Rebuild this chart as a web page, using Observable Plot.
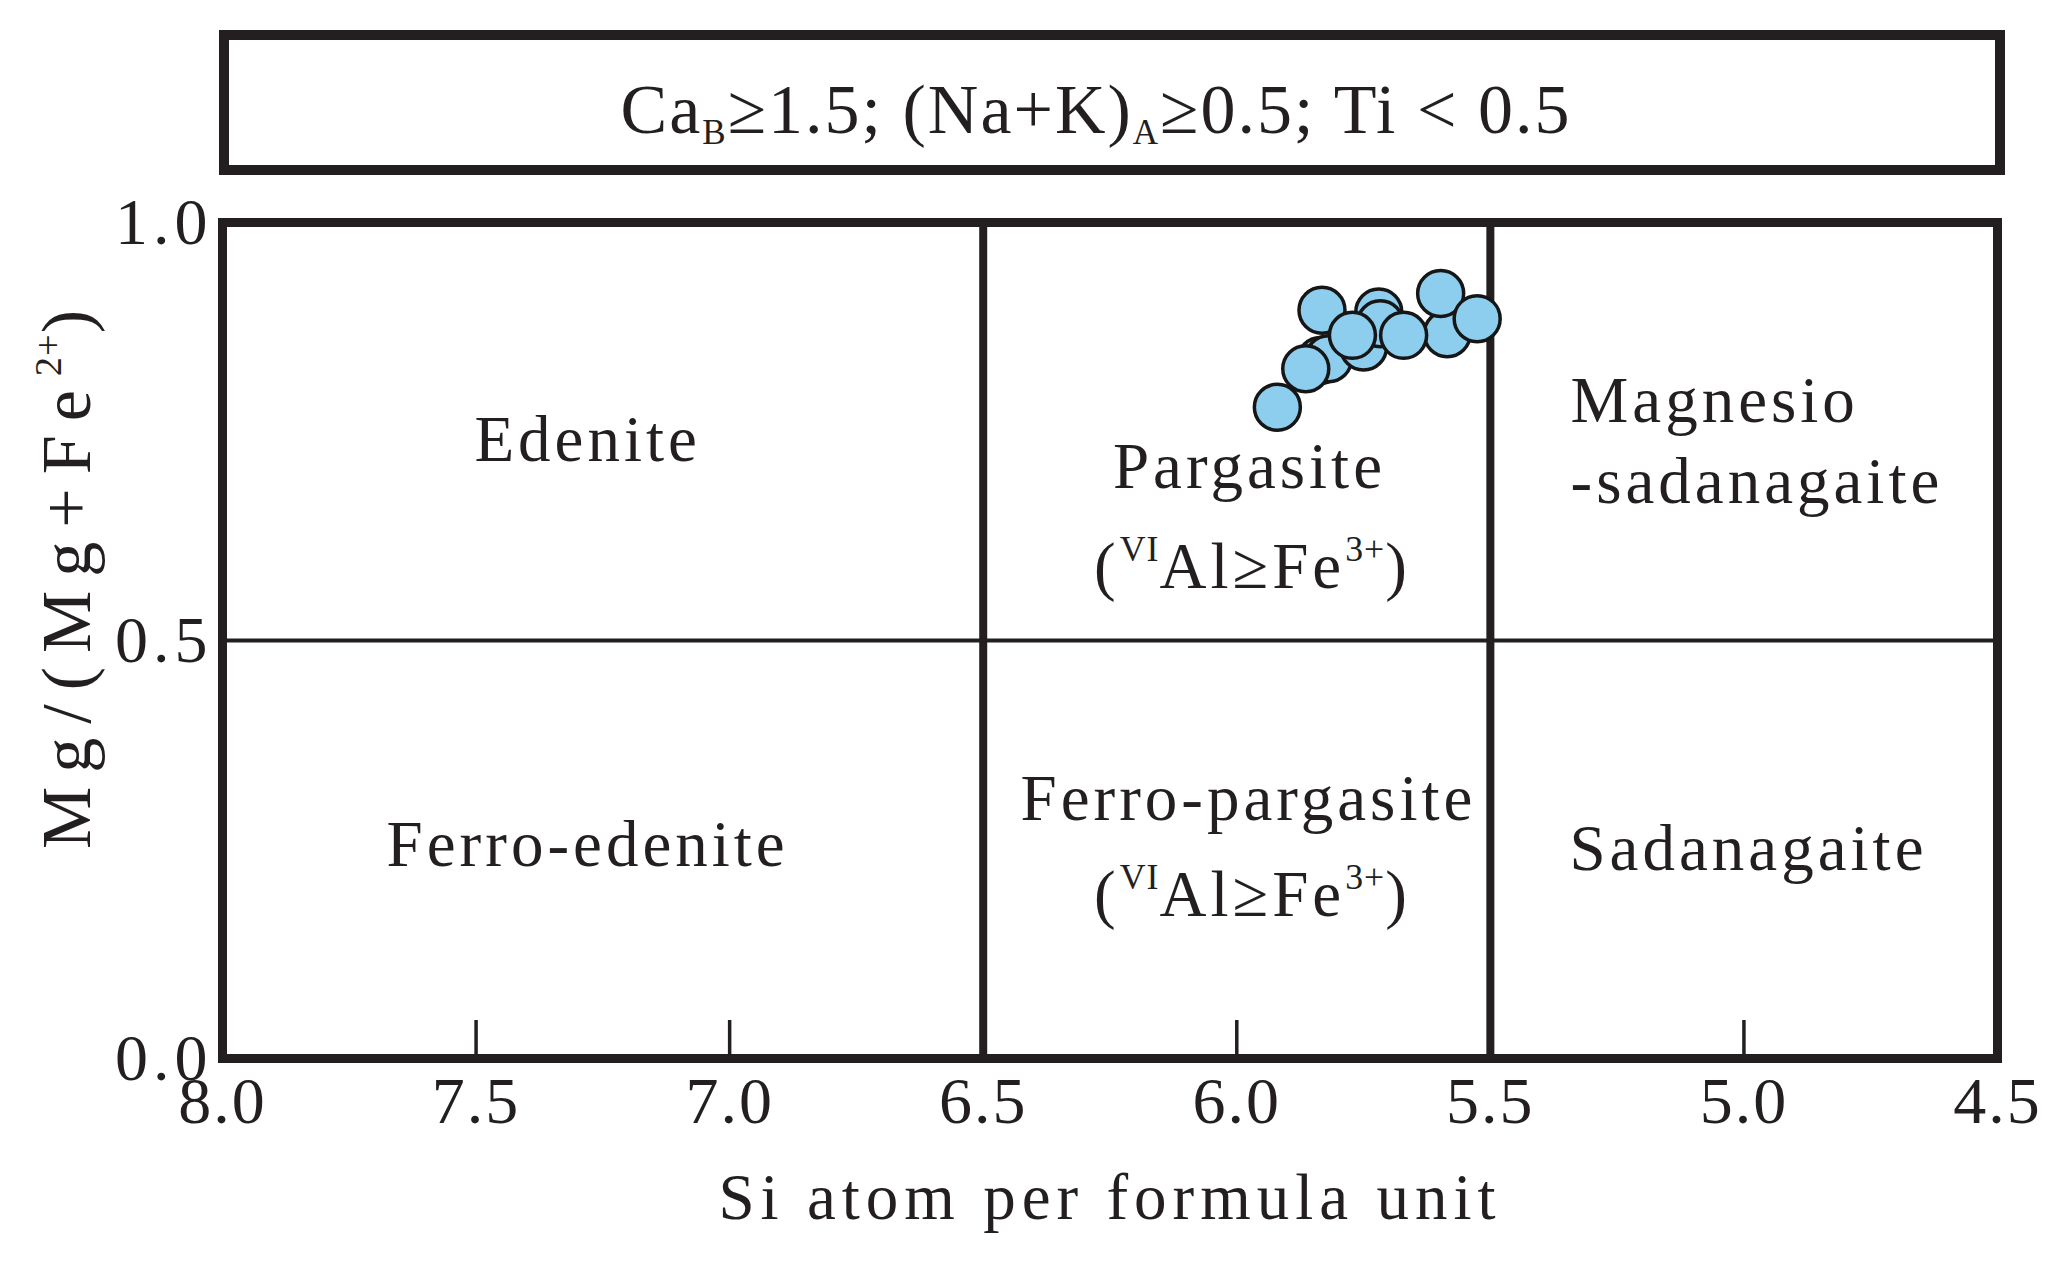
<!DOCTYPE html>
<html>
<head>
<meta charset="utf-8">
<script src="https://cdn.jsdelivr.net/npm/d3@7"></script>
<script src="https://cdn.jsdelivr.net/npm/@observablehq/plot@0.6"></script>
<style>
html, body { margin:0; padding:0; background:#fff; }
#root { position:relative; width:2057px; height:1267px; overflow:hidden; background:#fff; }
#titlebox { position:absolute; left:219px; top:30px; width:1786px; height:145px; box-sizing:border-box;
  border:10px solid #231f20; font-family:"Liberation Serif","Times New Roman",serif; font-size:70px;
  line-height:70px; text-align:center; color:#231f20; padding-top:35px; padding-right:32px; letter-spacing:2px; white-space:nowrap; }
#titlebox sub { font-size:0.5em; vertical-align:-0.3em; line-height:0; }
#chart { position:absolute; left:0; top:185px; }
</style>
</head>
<body>
<div id="root">
  <div id="titlebox"></div>
  <div id="chart"></div>
</div>
<script>
// ---- data ----
const xTicks = [8.0, 7.5, 7.0, 6.5, 6.0, 5.5, 5.0, 4.5];
const xMinorTicks = [7.5, 7.0, 6.0, 5.0];
const yTicks = [0.0, 0.5, 1.0];
const siBoundaries = [6.5, 5.5];
const mgBoundaries = [0.5];

// sample points (Si apfu, Mg/(Mg+Fe2+)), in drawing order
const sampleSi = [5.835, 5.819, 5.750, 5.720, 5.717, 5.585, 5.598, 5.832, 5.920, 5.864, 5.772, 5.671, 5.526];
const sampleMg = [0.835, 0.837, 0.851, 0.893, 0.879, 0.867, 0.915, 0.895, 0.779, 0.825, 0.865, 0.865, 0.885];

// field names and where they are written (data units)
const labelText  = ["Edenite", "Pargasite", "(^{VI}Al≥Fe^{3+})", "Magnesio", "-sadanagaite",
                    "Ferro-edenite", "Ferro-pargasite", "(^{VI}Al≥Fe^{3+})", "Sadanagaite"];
const labelSi    = [7.280, 5.975, 5.969, 5.342, 5.342, 7.280, 5.977, 5.969, 5.344];
const labelMg    = [0.715, 0.682, 0.563, 0.761, 0.665, 0.230, 0.285, 0.171, 0.225];
const labelAlign = ["middle", "middle", "middle", "start", "start", "middle", "middle", "middle", "start"];

const titleText = ["Ca", "_{B}", "≥1.5; (Na+K)", "_{A}", "≥0.5; Ti < 0.5"];
const xTitle = "Si atom per formula unit";
const yTitle = "Mg/(Mg+Fe^{2+})";

// ---- build ----
const ink = "#231f20";
const points = sampleSi.map((s, i) => ({si: s, mg: sampleMg[i]}));
const labels = labelText.map((t, i) => ({name: t, si: labelSi[i], mg: labelMg[i], align: labelAlign[i]}));

document.getElementById("titlebox").innerHTML = titleText
  .map(t => t.startsWith("_{") ? `<sub>${t.slice(2, -1)}</sub>` : t.replace(/</g, "&lt;"))
  .join("");

const plotH = 836;
const chart = Plot.plot({
  width: 2057,
  height: 1082,
  marginLeft: 222,
  marginRight: 60,
  marginTop: 37,
  marginBottom: 209,
  x: {domain: [8, 4.5], label: null},
  y: {domain: [0, 1], label: null},
  style: {fontFamily: "'Liberation Serif', 'Times New Roman', serif", background: "#fff", color: ink, overflow: "visible"},
  marks: [
    Plot.ruleX(xMinorTicks, {x: d => d, insetTop: plotH - 38, stroke: ink, strokeWidth: 3.5}),
    Plot.ruleX(siBoundaries, {x: d => d, stroke: ink, strokeWidth: 8}),
    Plot.ruleY(mgBoundaries, {y: d => d, stroke: ink, strokeWidth: 4}),
    Plot.frame({stroke: ink, strokeWidth: 9}),
    Plot.axisX({ticks: xTicks, tickSize: 0, tickPadding: 18, tickFormat: d3.format(".1f"), fontSize: 66, label: null, fill: ink}),
    Plot.axisY({ticks: yTicks, tickSize: 0, tickPadding: 10, tickFormat: d3.format(".1f"), fontSize: 66, label: null, fill: ink}),
    Plot.text(labels.filter(d => d.align === "middle"), {x: "si", y: "mg", text: "name", textAnchor: "middle", lineAnchor: "bottom", fontSize: 65, fill: ink}),
    Plot.text(labels.filter(d => d.align === "start"), {x: "si", y: "mg", text: "name", textAnchor: "start", lineAnchor: "bottom", fontSize: 65, fill: ink}),
    Plot.dot(points, {x: "si", y: "mg", r: 23, fill: "#8dcdee", stroke: "#161616", strokeWidth: 3.5}),
    Plot.text([xTitle], {text: d => d, frameAnchor: "bottom", textAnchor: "middle", lineAnchor: "bottom", dy: 160, fontSize: 65, fill: ink}),
    Plot.text([yTitle], {text: d => d, frameAnchor: "left", textAnchor: "middle", rotate: -90, lineAnchor: "bottom", dx: -133, dy: -68, fontSize: 70, fill: ink})
  ]
});

// letter spacing per text group
const textGroups = chart.querySelectorAll('g[aria-label="text"]');
const spacing = [4, 4, 6, 14];
textGroups.forEach((g, i) => g.setAttribute("letter-spacing", spacing[i] ?? 0));
const xl = chart.querySelector('g[aria-label="x-axis tick label"]');
if (xl) xl.setAttribute("letter-spacing", 2);
const yl = chart.querySelector('g[aria-label="y-axis tick label"]');
if (yl) yl.setAttribute("letter-spacing", 5);

// superscripts / subscripts written as ^{..} / _{..}
function applyScripts(el, fs) {
  const s = el.textContent;
  if (!/[\^_]\{/.test(s)) return;
  el.textContent = "";
  const re = /([\^_])\{([^}]*)\}/g;
  let last = 0, m;
  const add = (t, kind) => {
    const ts = document.createElementNS("http://www.w3.org/2000/svg", "tspan");
    if (kind) {
      ts.setAttribute("font-size", (fs * 0.55) + "px");
      ts.setAttribute("baseline-shift", kind === "^" ? (fs * 0.42) + "px" : (-fs * 0.15) + "px");
      ts.setAttribute("letter-spacing", 1);
    }
    ts.textContent = t;
    el.appendChild(ts);
  };
  while ((m = re.exec(s))) {
    if (m.index > last) add(s.slice(last, m.index));
    add(m[2], m[1]);
    last = re.lastIndex;
  }
  if (last < s.length) add(s.slice(last));
}
chart.querySelectorAll("text").forEach(t => {
  const g = t.closest("g");
  const fs = parseFloat(g && g.getAttribute("font-size")) || 65;
  const spans = t.querySelectorAll("tspan");
  if (spans.length) spans.forEach(sp => applyScripts(sp, fs));
  else applyScripts(t, fs);
});

document.getElementById("chart").appendChild(chart);
</script>
</body>
</html>
